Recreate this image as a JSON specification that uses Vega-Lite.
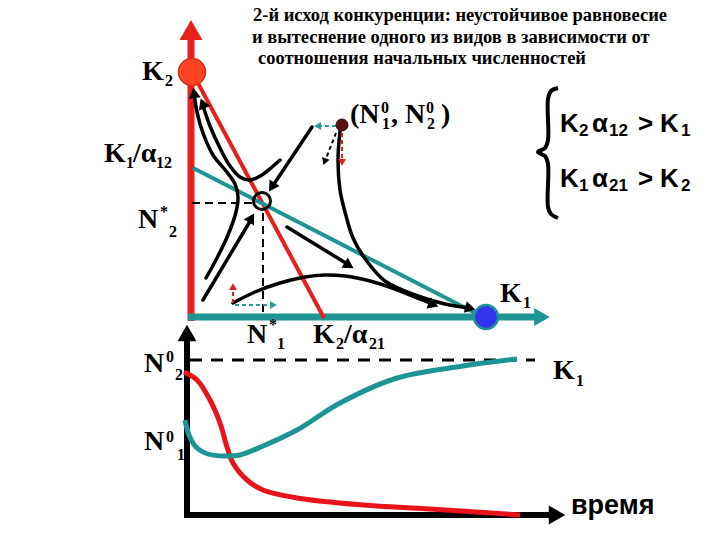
{
  "$schema": "https://vega.github.io/schema/vega-lite/v6.json",
  "width": 720,
  "height": 540,
  "autosize": {"type": "fit", "contains": "padding"},
  "padding": 0,
  "background": "white",
  "config": {"view": {"stroke": null}},
  "datasets": {
    "lines": [
      {"s": "ax2", "i": 0, "x": 191, "y": 321}, {"s": "ax2", "i": 1, "x": 191, "y": 32},
      {"s": "ax1", "i": 0, "x": 188, "y": 317}, {"s": "ax1", "i": 1, "x": 542, "y": 317},
      {"s": "rd", "i": 0, "x": 192, "y": 72}, {"s": "rd", "i": 1, "x": 324, "y": 318},
      {"s": "td", "i": 0, "x": 193, "y": 168}, {"s": "td", "i": 1, "x": 485, "y": 318},
      {"s": "cA", "i": 0, "x": 194, "y": 93}, {"s": "cA", "i": 1, "x": 197, "y": 112}, {"s": "cA", "i": 2, "x": 203, "y": 133}, {"s": "cA", "i": 3, "x": 213, "y": 155}, {"s": "cA", "i": 4, "x": 226, "y": 171}, {"s": "cA", "i": 5, "x": 235, "y": 184}, {"s": "cA", "i": 6, "x": 238, "y": 197}, {"s": "cA", "i": 7, "x": 236, "y": 212}, {"s": "cA", "i": 8, "x": 228, "y": 235}, {"s": "cA", "i": 9, "x": 217, "y": 258}, {"s": "cA", "i": 10, "x": 206, "y": 278},
      {"s": "cB", "i": 0, "x": 202, "y": 103}, {"s": "cB", "i": 1, "x": 210, "y": 126}, {"s": "cB", "i": 2, "x": 220, "y": 148}, {"s": "cB", "i": 3, "x": 230, "y": 166}, {"s": "cB", "i": 4, "x": 240, "y": 177}, {"s": "cB", "i": 5, "x": 250, "y": 180}, {"s": "cB", "i": 6, "x": 262, "y": 175}, {"s": "cB", "i": 7, "x": 272, "y": 167}, {"s": "cB", "i": 8, "x": 280, "y": 160},
      {"s": "dR", "i": 0, "x": 312, "y": 127}, {"s": "dR", "i": 1, "x": 272, "y": 187},
      {"s": "dL", "i": 0, "x": 203, "y": 300}, {"s": "dL", "i": 1, "x": 252, "y": 218},
      {"s": "dO", "i": 0, "x": 287, "y": 227}, {"s": "dO", "i": 1, "x": 349, "y": 265},
      {"s": "arc", "i": 0, "x": 233, "y": 303}, {"s": "arc", "i": 1, "x": 255, "y": 292}, {"s": "arc", "i": 2, "x": 280, "y": 283}, {"s": "arc", "i": 3, "x": 305, "y": 277}, {"s": "arc", "i": 4, "x": 325, "y": 275}, {"s": "arc", "i": 5, "x": 345, "y": 276}, {"s": "arc", "i": 6, "x": 370, "y": 281}, {"s": "arc", "i": 7, "x": 395, "y": 289}, {"s": "arc", "i": 8, "x": 415, "y": 297}, {"s": "arc", "i": 9, "x": 433, "y": 304},
      {"s": "n0c", "i": 0, "x": 340, "y": 131}, {"s": "n0c", "i": 1, "x": 338, "y": 160}, {"s": "n0c", "i": 2, "x": 340, "y": 190}, {"s": "n0c", "i": 3, "x": 345, "y": 212}, {"s": "n0c", "i": 4, "x": 353, "y": 238}, {"s": "n0c", "i": 5, "x": 366, "y": 260}, {"s": "n0c", "i": 6, "x": 385, "y": 281}, {"s": "n0c", "i": 7, "x": 415, "y": 295}, {"s": "n0c", "i": 8, "x": 445, "y": 304}, {"s": "n0c", "i": 9, "x": 470, "y": 308},
      {"s": "dh", "i": 0, "x": 192, "y": 203}, {"s": "dh", "i": 1, "x": 252, "y": 203},
      {"s": "dv", "i": 0, "x": 263, "y": 213}, {"s": "dv", "i": 1, "x": 263, "y": 316},
      {"s": "tdl", "i": 0, "x": 336, "y": 126}, {"s": "tdl", "i": 1, "x": 318, "y": 126},
      {"s": "trt", "i": 0, "x": 235, "y": 305}, {"s": "trt", "i": 1, "x": 273, "y": 305},
      {"s": "bdl", "i": 0, "x": 336, "y": 133}, {"s": "bdl", "i": 1, "x": 325, "y": 161},
      {"s": "rdl", "i": 0, "x": 342, "y": 133}, {"s": "rdl", "i": 1, "x": 342, "y": 162},
      {"s": "rup", "i": 0, "x": 233, "y": 303}, {"s": "rup", "i": 1, "x": 233, "y": 287},
      {"s": "br", "i": 0, "x": 558, "y": 88}, {"s": "br", "i": 1, "x": 551, "y": 91}, {"s": "br", "i": 2, "x": 548, "y": 99}, {"s": "br", "i": 3, "x": 548, "y": 140}, {"s": "br", "i": 4, "x": 545, "y": 148}, {"s": "br", "i": 5, "x": 538, "y": 152}, {"s": "br", "i": 6, "x": 545, "y": 156}, {"s": "br", "i": 7, "x": 548, "y": 164}, {"s": "br", "i": 8, "x": 548, "y": 207}, {"s": "br", "i": 9, "x": 551, "y": 214}, {"s": "br", "i": 10, "x": 558, "y": 218},
      {"s": "tax", "i": 0, "x": 187, "y": 518}, {"s": "tax", "i": 1, "x": 187, "y": 333},
      {"s": "tay", "i": 0, "x": 184, "y": 515}, {"s": "tay", "i": 1, "x": 557, "y": 515},
      {"s": "dash", "i": 0, "x": 190, "y": 360}, {"s": "dash", "i": 1, "x": 535, "y": 360},
      {"s": "rc", "i": 0, "x": 184, "y": 372}, {"s": "rc", "i": 1, "x": 197, "y": 380}, {"s": "rc", "i": 2, "x": 210, "y": 400}, {"s": "rc", "i": 3, "x": 220, "y": 423}, {"s": "rc", "i": 4, "x": 227, "y": 447}, {"s": "rc", "i": 5, "x": 233, "y": 463}, {"s": "rc", "i": 6, "x": 247, "y": 480}, {"s": "rc", "i": 7, "x": 263, "y": 490}, {"s": "rc", "i": 8, "x": 297, "y": 498}, {"s": "rc", "i": 9, "x": 363, "y": 505}, {"s": "rc", "i": 10, "x": 430, "y": 509}, {"s": "rc", "i": 11, "x": 520, "y": 515},
      {"s": "tc", "i": 0, "x": 185, "y": 420}, {"s": "tc", "i": 1, "x": 189, "y": 435}, {"s": "tc", "i": 2, "x": 196, "y": 447}, {"s": "tc", "i": 3, "x": 208, "y": 454}, {"s": "tc", "i": 4, "x": 225, "y": 456}, {"s": "tc", "i": 5, "x": 240, "y": 455}, {"s": "tc", "i": 6, "x": 263, "y": 446}, {"s": "tc", "i": 7, "x": 297, "y": 430}, {"s": "tc", "i": 8, "x": 340, "y": 403}, {"s": "tc", "i": 9, "x": 397, "y": 378}, {"s": "tc", "i": 10, "x": 463, "y": 366}, {"s": "tc", "i": 11, "x": 517, "y": 359}
    ],
    "heads": [
      {"h": "red", "x": 191, "y": 30, "a": 0},
      {"h": "teal", "x": 542, "y": 317, "a": 90},
      {"h": "axis", "x": 187, "y": 333, "a": 0},
      {"h": "axis", "x": 557, "y": 515, "a": 90},
      {"h": "curve", "x": 194, "y": 93, "a": 352},
      {"h": "curve", "x": 202.6, "y": 103.4, "a": 338},
      {"h": "curve", "x": 271.8, "y": 187.2, "a": 213},
      {"h": "curve", "x": 251.5, "y": 217.9, "a": 30.6},
      {"h": "curve", "x": 349.1, "y": 265.4, "a": 121.7},
      {"h": "curve", "x": 433.5, "y": 304.6, "a": 110.6},
      {"h": "curve", "x": 470.3, "y": 308.3, "a": 104},
      {"h": "steal", "x": 317.6, "y": 126, "a": 270},
      {"h": "steal", "x": 273.4, "y": 305, "a": 90},
      {"h": "sblack", "x": 324.6, "y": 161.7, "a": 200},
      {"h": "sred", "x": 342, "y": 162.4, "a": 180},
      {"h": "sred", "x": 233, "y": 286.6, "a": 0}
    ],
    "dots": [
      {"d": "K2", "x": 192, "y": 72},
      {"d": "K1", "x": 486, "y": 317},
      {"d": "saddle", "x": 262, "y": 201},
      {"d": "N0", "x": 342, "y": 125}
    ],
    "labels": [
      {"k": "title", "t": "2-й исход конкуренции:  неустойчивое равновесие", "x": 253, "y": 21},
      {"k": "title", "t": "и вытеснение одного из видов в зависимости от", "x": 252, "y": 43},
      {"k": "title", "t": "соотношения начальных численностей", "x": 258, "y": 64},
      {"k": "m", "t": "K", "x": 142, "y": 80},
      {"k": "m", "t": "K", "x": 104, "y": 162},
      {"k": "m", "t": "/α", "x": 133, "y": 162},
      {"k": "m", "t": "N", "x": 138, "y": 228},
      {"k": "m", "t": "(N", "x": 350, "y": 123},
      {"k": "m", "t": ", N", "x": 391, "y": 123},
      {"k": "m", "t": ")", "x": 441, "y": 123},
      {"k": "m", "t": "K", "x": 500, "y": 302},
      {"k": "m", "t": "N", "x": 247, "y": 343},
      {"k": "m", "t": "K", "x": 313, "y": 343},
      {"k": "m", "t": "/α", "x": 344, "y": 343},
      {"k": "m", "t": "N", "x": 144, "y": 372},
      {"k": "m", "t": "N", "x": 144, "y": 450},
      {"k": "m", "t": "K", "x": 553, "y": 379},
      {"k": "sub", "t": "2", "x": 165, "y": 86},
      {"k": "sub", "t": "1", "x": 126, "y": 168},
      {"k": "sub", "t": "12", "x": 156, "y": 168},
      {"k": "sub", "t": "2", "x": 169, "y": 237},
      {"k": "sub", "t": "1", "x": 382, "y": 129},
      {"k": "sub", "t": "2", "x": 427, "y": 129},
      {"k": "sub", "t": "1", "x": 523, "y": 308},
      {"k": "sub", "t": "1", "x": 277, "y": 349},
      {"k": "sub", "t": "2", "x": 336, "y": 349},
      {"k": "sub", "t": "21", "x": 369, "y": 349},
      {"k": "sub", "t": "2", "x": 175, "y": 380},
      {"k": "sub", "t": "1", "x": 177, "y": 460},
      {"k": "sub", "t": "1", "x": 576, "y": 386},
      {"k": "sup", "t": "*", "x": 160, "y": 217},
      {"k": "sup", "t": "0", "x": 381, "y": 113},
      {"k": "sup", "t": "0", "x": 426, "y": 113},
      {"k": "sup", "t": "*", "x": 269, "y": 330},
      {"k": "sup", "t": "0", "x": 166, "y": 362},
      {"k": "sup", "t": "0", "x": 166, "y": 442},
      {"k": "sans", "t": "K", "x": 560, "y": 132},
      {"k": "sans", "t": "α", "x": 592, "y": 132},
      {"k": "sans", "t": ">", "x": 638, "y": 132},
      {"k": "sans", "t": "K", "x": 660, "y": 132},
      {"k": "sans", "t": "K", "x": 560, "y": 187},
      {"k": "sans", "t": "α", "x": 592, "y": 187},
      {"k": "sans", "t": ">", "x": 638, "y": 187},
      {"k": "sans", "t": "K", "x": 660, "y": 187},
      {"k": "ssub", "t": "2", "x": 579, "y": 136},
      {"k": "ssub", "t": "12", "x": 609, "y": 136},
      {"k": "ssub", "t": "1", "x": 681, "y": 136},
      {"k": "ssub", "t": "1", "x": 579, "y": 191},
      {"k": "ssub", "t": "21", "x": 609, "y": 191},
      {"k": "ssub", "t": "2", "x": 681, "y": 191},
      {"k": "time", "t": "время", "x": 571, "y": 514}
    ]
  },
  "encoding": {
    "x": {"field": "x", "type": "quantitative", "scale": {"domain": [0, 720], "nice": false, "zero": false}, "axis": null},
    "y": {"field": "y", "type": "quantitative", "scale": {"domain": [0, 540], "nice": false, "zero": false, "reverse": true}, "axis": null}
  },
  "layer": [
    {"data": {"name": "lines"}, "transform": [{"filter": "datum.s === 'ax2'"}], "mark": {"type": "line", "color": "#e8201a", "strokeWidth": 7}, "encoding": {"order": {"field": "i", "type": "quantitative"}}},
    {"data": {"name": "lines"}, "transform": [{"filter": "datum.s === 'ax1'"}], "mark": {"type": "line", "color": "#1e9494", "strokeWidth": 7}, "encoding": {"order": {"field": "i", "type": "quantitative"}}},
    {"data": {"name": "lines"}, "transform": [{"filter": "datum.s === 'rd'"}], "mark": {"type": "line", "color": "#e8201a", "strokeWidth": 4}, "encoding": {"order": {"field": "i", "type": "quantitative"}}},
    {"data": {"name": "lines"}, "transform": [{"filter": "datum.s === 'td'"}], "mark": {"type": "line", "color": "#1e9494", "strokeWidth": 4}, "encoding": {"order": {"field": "i", "type": "quantitative"}}},
    {"data": {"name": "lines"}, "transform": [{"filter": "indexof(['cA','cB','dR','dL','dO','arc','n0c'], datum.s) >= 0"}], "mark": {"type": "line", "color": "black", "strokeWidth": 3.5, "interpolate": "catmull-rom", "strokeCap": "round"}, "encoding": {"detail": {"field": "s"}, "order": {"field": "i", "type": "quantitative"}}},
    {"data": {"name": "lines"}, "transform": [{"filter": "indexof(['dh','dv'], datum.s) >= 0"}], "mark": {"type": "line", "color": "black", "strokeWidth": 2, "strokeDash": [8, 5]}, "encoding": {"detail": {"field": "s"}, "order": {"field": "i", "type": "quantitative"}}},
    {"data": {"name": "lines"}, "transform": [{"filter": "indexof(['tdl','trt'], datum.s) >= 0"}], "mark": {"type": "line", "color": "#2a9a9a", "strokeWidth": 2, "strokeDash": [4, 3]}, "encoding": {"detail": {"field": "s"}, "order": {"field": "i", "type": "quantitative"}}},
    {"data": {"name": "lines"}, "transform": [{"filter": "datum.s === 'bdl'"}], "mark": {"type": "line", "color": "black", "strokeWidth": 2, "strokeDash": [4, 3]}, "encoding": {"order": {"field": "i", "type": "quantitative"}}},
    {"data": {"name": "lines"}, "transform": [{"filter": "indexof(['rdl','rup'], datum.s) >= 0"}], "mark": {"type": "line", "color": "#e02020", "strokeWidth": 2, "strokeDash": [4, 3]}, "encoding": {"detail": {"field": "s"}, "order": {"field": "i", "type": "quantitative"}}},
    {"data": {"name": "lines"}, "transform": [{"filter": "datum.s === 'br'"}], "mark": {"type": "line", "color": "black", "strokeWidth": 4, "interpolate": "catmull-rom"}, "encoding": {"order": {"field": "i", "type": "quantitative"}}},
    {"data": {"name": "lines"}, "transform": [{"filter": "indexof(['tax','tay'], datum.s) >= 0"}], "mark": {"type": "line", "color": "black", "strokeWidth": 6}, "encoding": {"detail": {"field": "s"}, "order": {"field": "i", "type": "quantitative"}}},
    {"data": {"name": "lines"}, "transform": [{"filter": "datum.s === 'dash'"}], "mark": {"type": "line", "color": "black", "strokeWidth": 3, "strokeDash": [12, 9]}, "encoding": {"order": {"field": "i", "type": "quantitative"}}},
    {"data": {"name": "lines"}, "transform": [{"filter": "datum.s === 'rc'"}], "mark": {"type": "line", "color": "#e8141a", "strokeWidth": 5, "interpolate": "catmull-rom"}, "encoding": {"order": {"field": "i", "type": "quantitative"}}},
    {"data": {"name": "lines"}, "transform": [{"filter": "datum.s === 'tc'"}], "mark": {"type": "line", "color": "#1e9494", "strokeWidth": 5, "interpolate": "catmull-rom"}, "encoding": {"order": {"field": "i", "type": "quantitative"}}},
    {"data": {"name": "heads"}, "transform": [{"filter": "datum.h === 'red'"}], "mark": {"type": "point", "shape": "triangle-up", "filled": true, "opacity": 1, "size": 529, "color": "#e8201a", "strokeWidth": 0}, "encoding": {"angle": {"field": "a", "type": "quantitative", "scale": null}}},
    {"data": {"name": "heads"}, "transform": [{"filter": "datum.h === 'teal'"}], "mark": {"type": "point", "shape": "triangle-up", "filled": true, "opacity": 1, "size": 324, "color": "#1e9494", "strokeWidth": 0}, "encoding": {"angle": {"field": "a", "type": "quantitative", "scale": null}}},
    {"data": {"name": "heads"}, "transform": [{"filter": "datum.h === 'axis'"}], "mark": {"type": "point", "shape": "triangle-up", "filled": true, "opacity": 1, "size": 361, "color": "black", "strokeWidth": 0}, "encoding": {"angle": {"field": "a", "type": "quantitative", "scale": null}}},
    {"data": {"name": "heads"}, "transform": [{"filter": "datum.h === 'curve'"}], "mark": {"type": "point", "shape": "triangle-up", "filled": true, "opacity": 1, "size": 144, "color": "black", "strokeWidth": 0}, "encoding": {"angle": {"field": "a", "type": "quantitative", "scale": null}}},
    {"data": {"name": "heads"}, "transform": [{"filter": "datum.h === 'steal'"}], "mark": {"type": "point", "shape": "triangle-up", "filled": true, "opacity": 1, "size": 64, "color": "#2a9a9a", "strokeWidth": 0}, "encoding": {"angle": {"field": "a", "type": "quantitative", "scale": null}}},
    {"data": {"name": "heads"}, "transform": [{"filter": "datum.h === 'sblack'"}], "mark": {"type": "point", "shape": "triangle-up", "filled": true, "opacity": 1, "size": 64, "color": "black", "strokeWidth": 0}, "encoding": {"angle": {"field": "a", "type": "quantitative", "scale": null}}},
    {"data": {"name": "heads"}, "transform": [{"filter": "datum.h === 'sred'"}], "mark": {"type": "point", "shape": "triangle-up", "filled": true, "opacity": 1, "size": 64, "color": "#e02020", "strokeWidth": 0}, "encoding": {"angle": {"field": "a", "type": "quantitative", "scale": null}}},
    {"data": {"name": "dots"}, "transform": [{"filter": "datum.d === 'K2'"}], "mark": {"type": "point", "shape": "circle", "filled": true, "opacity": 1, "size": 729, "fill": "#ff4422", "stroke": "#d8301c", "strokeWidth": 1.5}},
    {"data": {"name": "dots"}, "transform": [{"filter": "datum.d === 'K1'"}], "mark": {"type": "point", "shape": "circle", "filled": true, "opacity": 1, "size": 576, "fill": "#3333ee", "stroke": "#1e9494", "strokeWidth": 2.5}},
    {"data": {"name": "dots"}, "transform": [{"filter": "datum.d === 'saddle'"}], "mark": {"type": "point", "shape": "circle", "filled": false, "opacity": 1, "size": 290, "stroke": "black", "strokeWidth": 3}},
    {"data": {"name": "dots"}, "transform": [{"filter": "datum.d === 'N0'"}], "mark": {"type": "point", "shape": "circle", "filled": true, "opacity": 1, "size": 144, "fill": "#5a1010", "stroke": "#3a0808", "strokeWidth": 1}},
    {"data": {"name": "labels"}, "transform": [{"filter": "datum.k === 'title'"}], "mark": {"type": "text", "font": "Liberation Serif", "fontWeight": "bold", "fontSize": 18.5, "align": "left", "baseline": "alphabetic", "color": "black"}, "encoding": {"text": {"field": "t"}}},
    {"data": {"name": "labels"}, "transform": [{"filter": "datum.k === 'm'"}], "mark": {"type": "text", "font": "Liberation Serif", "fontWeight": "bold", "fontSize": 28, "align": "left", "baseline": "alphabetic", "color": "black"}, "encoding": {"text": {"field": "t"}}},
    {"data": {"name": "labels"}, "transform": [{"filter": "datum.k === 'sub' || datum.k === 'sup'"}], "mark": {"type": "text", "font": "Liberation Serif", "fontWeight": "bold", "fontSize": 16, "align": "left", "baseline": "alphabetic", "color": "black"}, "encoding": {"text": {"field": "t"}}},
    {"data": {"name": "labels"}, "transform": [{"filter": "datum.k === 'sans'"}], "mark": {"type": "text", "font": "Liberation Sans", "fontWeight": "bold", "fontSize": 26, "align": "left", "baseline": "alphabetic", "color": "black"}, "encoding": {"text": {"field": "t"}}},
    {"data": {"name": "labels"}, "transform": [{"filter": "datum.k === 'ssub'"}], "mark": {"type": "text", "font": "Liberation Sans", "fontWeight": "bold", "fontSize": 17, "align": "left", "baseline": "alphabetic", "color": "black"}, "encoding": {"text": {"field": "t"}}},
    {"data": {"name": "labels"}, "transform": [{"filter": "datum.k === 'time'"}], "mark": {"type": "text", "font": "Liberation Sans", "fontWeight": "bold", "fontSize": 27, "align": "left", "baseline": "alphabetic", "color": "black"}, "encoding": {"text": {"field": "t"}}}
  ]
}
